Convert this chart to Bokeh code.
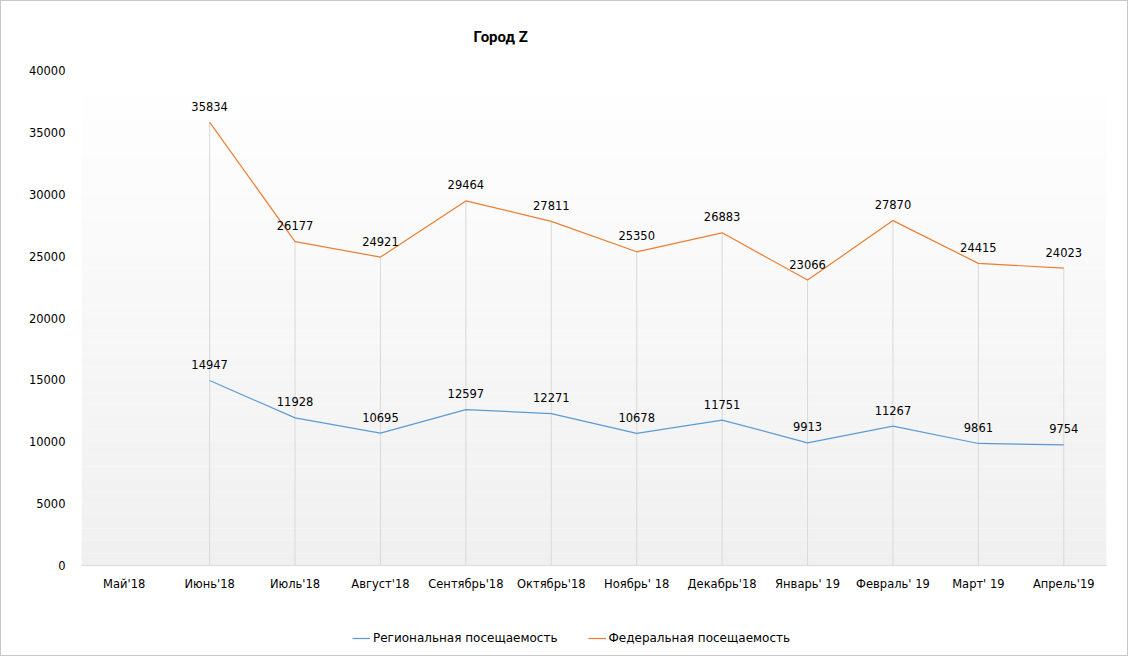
from bokeh.plotting import figure
from bokeh.layouts import column
from bokeh.models import (ColumnDataSource, Range1d, FactorRange, BoxAnnotation,
                          Legend, LegendItem)
from bokeh.core.properties import value
from bokeh.embed import file_html
from bokeh.resources import INLINE

# ---- data -------------------------------------------------------------
months = ["Май'18", "Июнь'18", "Июль'18", "Август'18", "Сентябрь'18", "Октябрь'18",
          "Ноябрь' 18", "Декабрь'18", "Январь' 19", "Февраль' 19", "Март' 19", "Апрель'19"]
regional = [None, 14947, 11928, 10695, 12597, 12271, 10678, 11751, 9913, 11267, 9861, 9754]
federal = [None, 35834, 26177, 24921, 29464, 27811, 25350, 26883, 23066, 27870, 24415, 24023]
y_ticks = [0, 5000, 10000, 15000, 20000, 25000, 30000, 35000, 40000]
title_text = "Город Z"
reg_name = "Региональная посещаемость"
fed_name = "Федеральная посещаемость"

FONT = "DejaVu Sans"
BLUE = "#5b9bd5"
ORANGE = "#ed7d31"

def nanify(vals):
    return [float("nan") if v is None else v for v in vals]

src = ColumnDataSource(dict(x=months, reg=nanify(regional), fed=nanify(federal)))
pts = [i for i, v in enumerate(federal) if v is not None]
lab = ColumnDataSource(dict(
    x=[months[i] for i in pts],
    reg=[regional[i] for i in pts],
    fed=[federal[i] for i in pts],
    reg_t=[str(regional[i]) for i in pts],
    fed_t=[str(federal[i]) for i in pts],
    zero=[0] * len(pts),
))

W = 1126
HP, HL = 594, 60
p = figure(width=W, height=HP, x_range=FactorRange(*months), y_range=Range1d(0, 40000),
           output_backend="svg", toolbar_location=None,
           min_border_left=80, min_border_right=W - 1105, min_border_top=69, min_border_bottom=30)

p.title.text = title_text
p.title.text_font = "Roboto"
p.title.text_font_size = "15px"
p.title.text_font_style = "bold"
p.title.align = "left"
p.title.vertical_align = "top"
p.title.offset = 392
p.title.standoff = 46
p.title.text_color = "black"

p.outline_line_color = None
p.background_fill_color = "white"
p.border_fill_color = "white"
p.xgrid.grid_line_color = None
p.ygrid.grid_line_color = None

# gradient background of the plot area
nb = 40
for k in range(nb):
    t = k / (nb - 1)
    c = int(round(0xf0 + (0xff - 0xf0) * t))
    p.add_layout(BoxAnnotation(bottom=k * 1000, top=(k + 1) * 1000,
                               fill_color="#%02x%02x%02x" % (c, c, c), fill_alpha=1.0,
                               line_color=None, level="underlay"))

# drop lines
p.segment(x0="x", y0="zero", x1="x", y1="fed", source=lab, line_color="#d9d9d9", line_width=1)

r_reg = p.line("x", "reg", source=src, line_color=BLUE, line_width=1.2)
r_fed = p.line("x", "fed", source=src, line_color=ORANGE, line_width=1.2)

for col, tcol in (("reg", "reg_t"), ("fed", "fed_t")):
    p.text(x="x", y=col, text=tcol, source=lab, text_align="center", text_baseline="middle",
           y_offset=-16, text_font=value(FONT), text_font_size="11.5px", text_color="black")

# axes
p.yaxis.ticker = y_ticks
p.yaxis.axis_line_color = None
p.yaxis.major_tick_line_color = None
p.yaxis.minor_tick_line_color = None
p.yaxis.major_label_standoff = 10
p.yaxis.major_label_text_font = FONT
p.yaxis.major_label_text_font_size = "11.5px"
p.yaxis.major_label_text_color = "black"

p.xaxis.axis_line_color = "#d9d9d9"
p.xaxis.major_tick_line_color = None
p.xaxis.minor_tick_line_color = None
p.xaxis.major_label_standoff = 5
p.xaxis.major_label_text_font = FONT
p.xaxis.major_label_text_font_size = "11.5px"
p.xaxis.major_label_text_color = "black"

# ---- legend strip below the chart ---------------------------------------
# the same series are drawn here outside the visible y range, only to feed the legend
pl = figure(width=W, height=HL, x_range=FactorRange(*months), y_range=Range1d(-2, -1),
            output_backend="svg", toolbar_location=None,
            min_border_left=0, min_border_right=0, min_border_top=0, min_border_bottom=0)
pl.axis.visible = False
pl.grid.grid_line_color = None
pl.outline_line_color = None
pl.border_fill_color = "white"
pl.background_fill_color = "white"
l_reg = pl.line("x", "reg", source=src, line_color=BLUE, line_width=1.2)
l_fed = pl.line("x", "fed", source=src, line_color=ORANGE, line_width=1.2)
legend = Legend(items=[LegendItem(label=reg_name, renderers=[l_reg]),
                       LegendItem(label=fed_name, renderers=[l_fed])],
                orientation="horizontal", location=(271, 10),
                label_text_font=FONT, label_text_font_size="12px", label_text_color="black",
                glyph_width=18, glyph_height=14, label_standoff=3, spacing=30,
                padding=4, margin=0, border_line_color=None, background_fill_alpha=0)
pl.add_layout(legend, "center")

layout = column(p, pl, spacing=0)
layout.styles = {"border": "1px solid #c8c8c8"}

open("out.html", "w").write(file_html(layout, INLINE))
